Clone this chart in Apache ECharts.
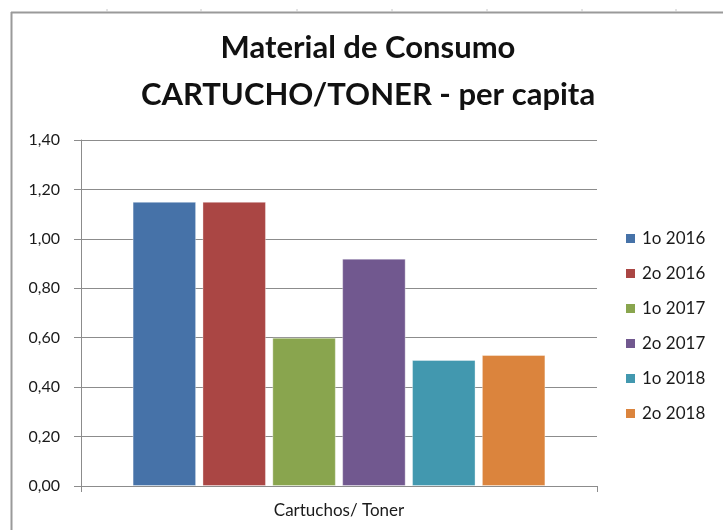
<!DOCTYPE html>
<html>
<head>
<meta charset="utf-8">
<title>Material de Consumo - CARTUCHO/TONER per capita</title>
<script src="https://cdn.jsdelivr.net/npm/echarts@6/dist/echarts.min.js"></script>
<style>
  html, body { margin: 0; padding: 0; background: #fff; }
  #main { width: 723px; height: 530px; }
</style>
</head>
<body>
<div id="main"></div>
<script>
// categories and values
const categories = ["Cartuchos/ Toner"];
const seriesNames = ["1o 2016", "2o 2016", "1o 2017", "2o 2017", "1o 2018", "2o 2018"];
const seriesValues = [1.15, 1.15, 0.60, 0.92, 0.51, 0.53];
const colors = ["#4672A8", "#AA4644", "#89A54E", "#71588F", "#4298AF", "#DB843D"];
const yTicks = { min: 0, max: 1.4, interval: 0.2 };

const font = "Lato, 'Open Sans', sans-serif";
const axisGrey = "#8c8c8c";

function fmt(v) {
  return v.toFixed(2).replace(".", ",");
}

// column marks of the sheet behind the chart
const sheetMarks = [107, 201, 297, 392, 487, 582, 676].map(function (x) {
  return {
    type: "line",
    shape: { x1: x, y1: 9, x2: x, y2: 12 },
    style: { stroke: "#c8c8c8", lineWidth: 1 }
  };
});

const options = {
  animation: false,
  color: colors,
  textStyle: { fontFamily: font },
  title: {
    text: "Material de Consumo\nCARTUCHO/TONER - per capita",
    left: 368,
    top: 24,
    padding: 0,
    textAlign: "center",
    textStyle: {
      fontFamily: font,
      fontSize: 31,
      fontWeight: "bold",
      color: "#111",
      lineHeight: 47
    }
  },
  legend: {
    orient: "vertical",
    left: 626,
    top: 230,
    padding: 0,
    itemWidth: 9,
    itemHeight: 9,
    itemGap: 18,
    itemStyle: { borderWidth: 0 },
    icon: "rect",
    data: seriesNames,
    textStyle: { fontFamily: font, fontSize: 17, color: "#1a1a1a", lineHeight: 17, padding: [0, 0, 0, 2] }
  },
  grid: { left: 81, right: 126, top: 140, bottom: 44 },
  xAxis: {
    type: "category",
    data: categories,
    axisLine: { lineStyle: { color: axisGrey, width: 1 } },
    axisTick: { show: true, length: 6, lineStyle: { color: axisGrey } },
    axisLabel: { fontFamily: font, fontSize: 17, color: "#1a1a1a", margin: 16 }
  },
  yAxis: {
    type: "value",
    min: yTicks.min,
    max: yTicks.max,
    interval: yTicks.interval,
    axisLine: { show: true, lineStyle: { color: axisGrey, width: 1 } },
    axisTick: { show: true, length: 7, lineStyle: { color: axisGrey } },
    axisLabel: { fontFamily: font, fontSize: 16, color: "#1a1a1a", margin: 21, formatter: fmt },
    splitLine: { lineStyle: { color: axisGrey, width: 1 } }
  },
  series: seriesNames.map(function (name, i) {
    return {
      name: name,
      type: "bar",
      data: [seriesValues[i]],
      barGap: "10%",
      barCategoryGap: "20%",
      itemStyle: { borderColor: "rgba(255,255,255,0.35)", borderWidth: 1 }
    };
  }),
  graphic: [
    {
      type: "line",
      shape: { x1: 11, y1: 12.5, x2: 723, y2: 12.5 },
      style: { stroke: "#9a9a9a", lineWidth: 2 }
    },
    {
      type: "line",
      shape: { x1: 11.5, y1: 12, x2: 11.5, y2: 530 },
      style: { stroke: "#9a9a9a", lineWidth: 2 }
    }
  ].concat(sheetMarks)
};

var myChart = echarts.init(document.getElementById("main"));
myChart.setOption(options);
window.onresize = function () {
  myChart.resize();
};
</script>
</body>
</html>
